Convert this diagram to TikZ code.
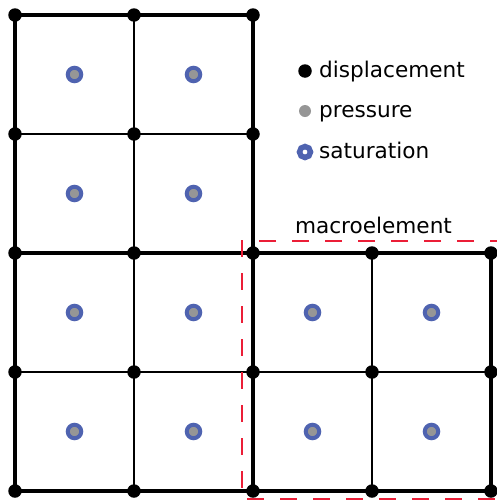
\documentclass[tikz,border=0pt]{standalone}
\usepackage{fontspec}
\setmainfont{DejaVu Sans}
\usetikzlibrary{positioning}
\definecolor{satblue}{RGB}{79,99,176}
\definecolor{presgray}{RGB}{150,150,150}
\definecolor{macrored}{RGB}{235,30,55}
\begin{document}
\begin{tikzpicture}[x=1pt, y=-1pt, font=\fontsize{21.6}{25}\selectfont,
          dnode/.style={circle, fill=black, inner sep=0pt, minimum size=13.5pt},
          pnode/.style={circle, draw=satblue, line width=4pt, fill=presgray, inner sep=0pt, minimum size=13.5pt},
          lsat/.style={circle, draw=satblue, line width=5.5pt, fill=white, inner sep=0pt, minimum size=11pt},
          lpres/.style={circle, fill=presgray, inner sep=0pt, minimum size=12pt},
          thin edge/.style={line width=2pt},
          macro/.style={line width=4pt},
          macrobox/.style={draw=macrored, line width=2pt, dash pattern=on 17pt off 16pt},
          ltext/.style={inner sep=0pt, text height=17pt, text depth=4pt}]
        \useasboundingbox (0,0) rectangle (496,501);
        % element centres (pressure + saturation)
        \foreach \i/\j in {0/0,1/0,0/1,1/1,0/2,1/2,2/2,3/2,0/3,1/3,2/3,3/3}
          \node[pnode] (c-\i-\j) at (74.5+119*\i, 74.5+119*\j) {};
        % grid corner coordinates
        \foreach \i in {0,1,2}
          \foreach \j in {0,1}
            \coordinate (g-\i-\j) at (15+119*\i, 15+119*\j);
        \foreach \i in {0,...,4}
          \foreach \j in {2,3,4}
            \coordinate (g-\i-\j) at (15+119*\i, 15+119*\j);
        % inner element edges
        \draw[thin edge] (g-1-0) -- (g-1-4);
        \draw[thin edge] (g-0-1) -- (g-2-1);
        \draw[thin edge] (g-0-3) -- (g-4-3);
        \draw[thin edge] (g-3-2) -- (g-3-4);
        % macroelement borders
        \draw[macro] (g-0-0) rectangle (g-2-2);
        \draw[macro] (g-0-2) rectangle (g-2-4);
        \draw[macro] (g-2-2) rectangle (g-4-4);
        % displacement nodes
        \foreach \i in {0,1,2}
          \foreach \j in {0,1}
            \node[dnode] (d-\i-\j) at (g-\i-\j) {};
        \foreach \i in {0,...,4}
          \foreach \j in {2,3,4}
            \node[dnode] (d-\i-\j) at (g-\i-\j) {};
        % macroelement frame (runs off the right edge)
        \coordinate (m-tr) at (540,241);
        \coordinate (m-tl) at (242,241);
        \coordinate (m-bl) at (242,499);
        \coordinate (m-br) at (540,499);
        \draw[macrobox] (m-tr) -- (m-tl) -- (m-bl) -- (m-br);
        \node[ltext] (mlabel) at (373.5,226.5) {macroelement};
        % legend
        \node[dnode] (k-d) at (305,71) {};
        \node[lpres] (k-p) at (305,111) {};
        \node[lsat] (k-s) at (305,152) {};
        \node[ltext, right=14pt of k-d.center] (t-d) {displacement};
        \node[ltext, right=14pt of k-p.center] (t-p) {pressure};
        \node[ltext, right=14pt of k-s.center] (t-s) {saturation};
      \end{tikzpicture}
\end{document}
